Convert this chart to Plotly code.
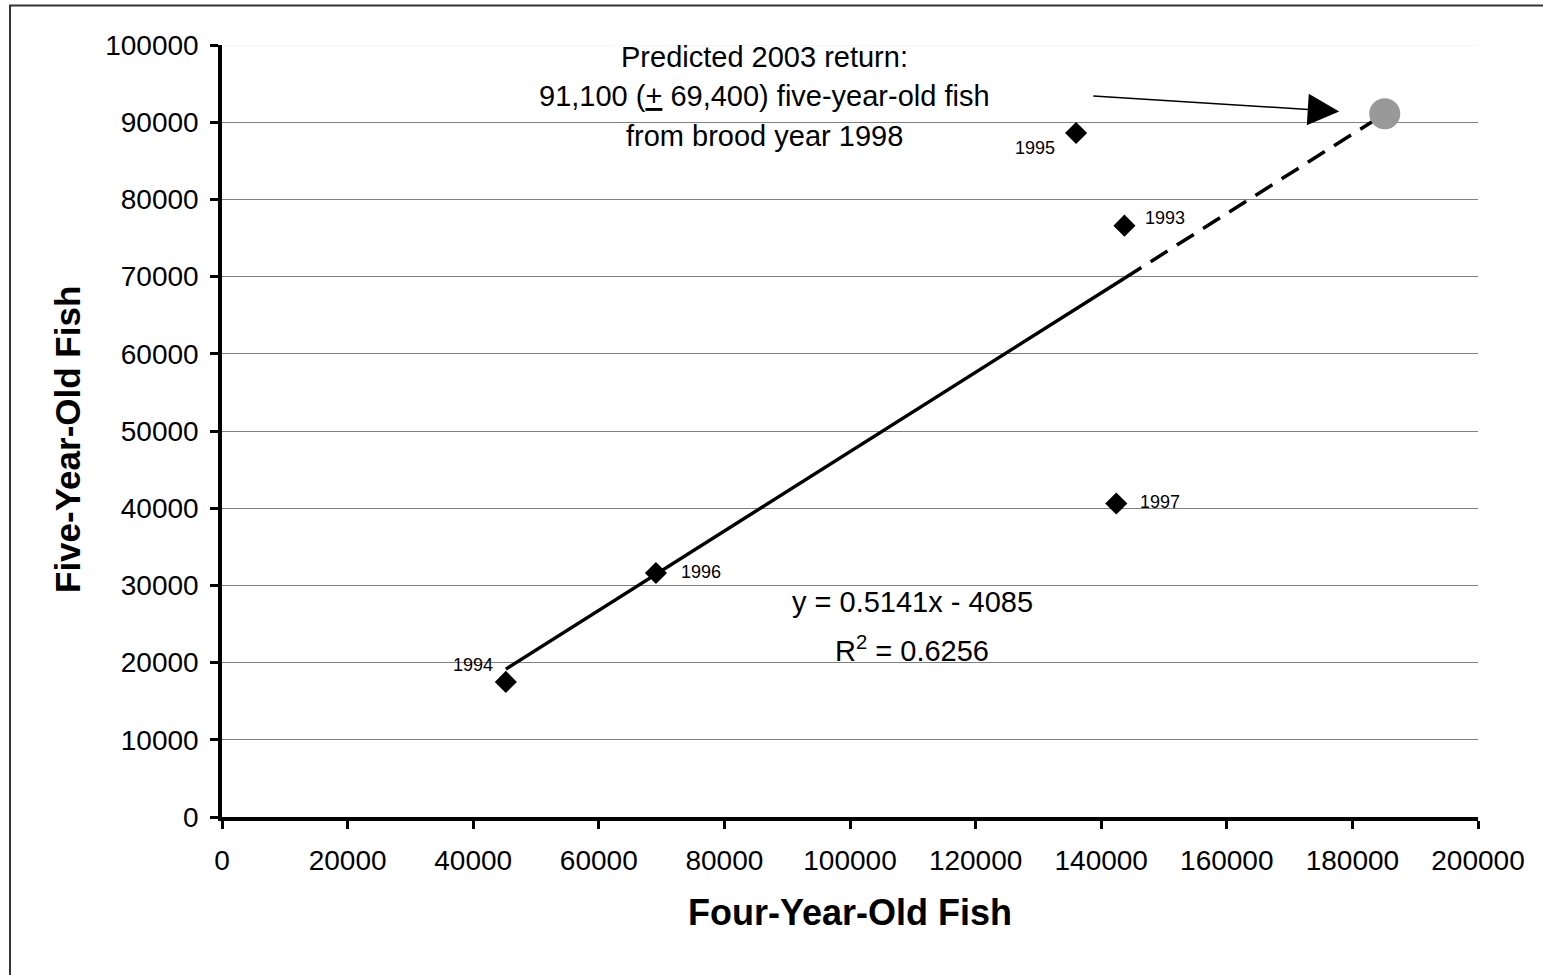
import plotly.graph_objects as go

# Brood-year returns: four-year-old vs five-year-old fish
brood_years = ["1993", "1994", "1995", "1996", "1997"]
four_year_old = [143700, 45200, 136000, 69100, 142400]
five_year_old = [76600, 17500, 88600, 31600, 40600]

# Forecast for brood year 1998
pred_four_year_old = 185150
pred_five_year_old = 91100

# Fitted regression (as printed on the chart)
slope = 0.5141
intercept = -4085
r_squared = 0.6256

x_ticks = list(range(0, 200001, 20000))
y_ticks = list(range(0, 100001, 10000))

FONT = "Liberation Sans, Arial, sans-serif"

# plot-area geometry in pixels, used for placing paper-referenced items
W, H = 1543, 975
L, R, T, B = 222, 65, 45, 158
pw, ph = W - L - R, H - T - B


def px_x(p):
    return (p - L) / pw


def px_y(p):
    return (H - B - p) / ph


def fit(x):
    return slope * x + intercept


fig = go.Figure()

x_lo, x_hi = min(four_year_old), max(four_year_old)

# solid trend line over the observed range
fig.add_trace(go.Scatter(
    x=[x_lo, x_hi], y=[fit(x_lo), fit(x_hi)],
    mode="lines", line=dict(color="black", width=3.5),
    hoverinfo="skip", showlegend=False,
))
# dashed extension to the forecast point
fig.add_trace(go.Scatter(
    x=[x_hi, pred_four_year_old], y=[fit(x_hi), fit(pred_four_year_old)],
    mode="lines", line=dict(color="black", width=3.5, dash="20px,11px"),
    hoverinfo="skip", showlegend=False,
))
# observed returns
fig.add_trace(go.Scatter(
    x=four_year_old, y=five_year_old, mode="markers",
    marker=dict(symbol="diamond", size=17, color="black"),
    showlegend=False,
))
# forecast
fig.add_trace(go.Scatter(
    x=[pred_four_year_old], y=[pred_five_year_old], mode="markers",
    marker=dict(symbol="circle", size=31, color="#999999"),
    showlegend=False,
))

# year label offsets (xanchor, xshift, yshift)
label_style = {
    "1993": ("left", 19, 8),
    "1994": ("right", -11, 17),
    "1995": ("right", -19, -15),
    "1996": ("left", 23, 1),
    "1997": ("left", 22, 2),
}
annotations = []
for yr, xv, yv in zip(brood_years, four_year_old, five_year_old):
    anchor, dx, dy = label_style[yr]
    annotations.append(dict(
        x=xv, y=yv, xref="x", yref="y", text=yr, showarrow=False,
        xanchor=anchor, yanchor="middle", xshift=dx, yshift=dy,
        font=dict(family=FONT, size=18, color="black"),
    ))

# forecast caption
caption = [
    ("Predicted 2003 return:", 57),
    (f"{pred_five_year_old:,} (<u>+</u> 69,400) five-year-old fish", 96),
    ("from brood year 1998", 136),
]
for txt, yc in caption:
    annotations.append(dict(
        x=px_x(764), y=px_y(yc), xref="paper", yref="paper", text=txt,
        showarrow=False, xanchor="center", yanchor="middle",
        font=dict(family=FONT, size=29, color="black"),
    ))

# arrow pointing at the forecast
annotations.append(dict(
    x=177900, y=91400, xref="x", yref="y", ax=138500, ay=93400,
    axref="x", ayref="y", text="", showarrow=True,
    arrowhead=2, arrowsize=4.2, arrowwidth=1.5, arrowcolor="black",
))

# regression equation
eq_lines = [
    (f"y = {slope}x - {abs(intercept)}", 602),
    (f"R<sup>2</sup> = {r_squared}", 649),
]
for txt, yc in eq_lines:
    annotations.append(dict(
        x=px_x(912), y=px_y(yc), xref="paper", yref="paper", text=txt,
        showarrow=False, xanchor="center", yanchor="middle",
        font=dict(family=FONT, size=29, color="black"),
    ))

# axis titles
annotations.append(dict(
    x=px_x(850), y=px_y(912), xref="paper", yref="paper",
    text="<b>Four-Year-Old Fish</b>", showarrow=False,
    xanchor="center", yanchor="middle",
    font=dict(family=FONT, size=36, color="black"),
))
annotations.append(dict(
    x=px_x(67), y=px_y(440), xref="paper", yref="paper",
    text="<b>Five-Year-Old Fish</b>", showarrow=False, textangle=-90,
    xanchor="center", yanchor="middle",
    font=dict(family=FONT, size=35, color="black"),
))

shapes = [
    # faint top gridline
    dict(type="line", xref="paper", yref="y", x0=0, x1=1, y0=100000, y1=100000,
         line=dict(color="#eeeeee", width=1), layer="above"),
    # outer chart frame
    dict(type="rect", xref="paper", yref="paper",
         x0=px_x(10), x1=px_x(W + 20), y0=px_y(H + 20), y1=px_y(5.5),
         line=dict(color="#333333", width=2), fillcolor="rgba(0,0,0,0)",
         layer="below"),
]

axis_common = dict(
    showline=True, linecolor="black", linewidth=3.5,
    ticks="outside", ticklen=8, tickwidth=3, tickcolor="black",
    zeroline=False, mirror=False,
    tickfont=dict(family=FONT, size=28, color="black"),
)

fig.update_layout(
    width=W, height=H,
    margin=dict(l=L, r=R, t=T, b=B),
    paper_bgcolor="white", plot_bgcolor="white",
    showlegend=False,
    xaxis=dict(range=[0, 200000], tickvals=x_ticks,
               ticktext=[str(v) for v in x_ticks], showgrid=False,
               ticklabelstandoff=8, **axis_common),
    yaxis=dict(range=[0, 100000], tickvals=y_ticks,
               ticktext=[str(v) for v in y_ticks], showgrid=True,
               gridcolor="#808080", gridwidth=1,
               ticklabelstandoff=6, **axis_common),
    annotations=annotations,
    shapes=shapes,
)

fig.write_html("out.html")
